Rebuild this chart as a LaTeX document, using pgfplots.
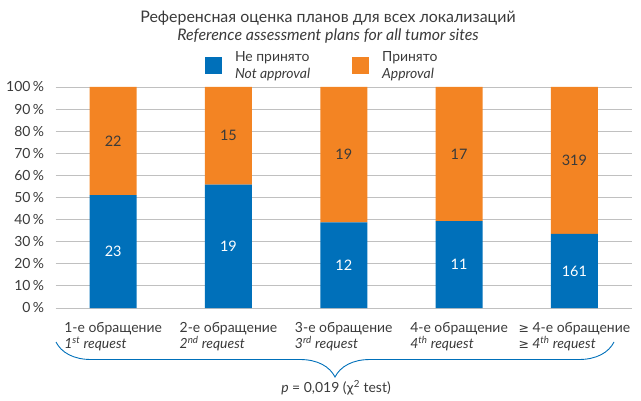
\documentclass[border=0pt]{standalone}
\usepackage{pgfplots}
\pgfplotsset{compat=1.18}
\usepackage{fontspec}
\setmainfont{Lato}
\newfontfamily\sym{DejaVu Sans}
\usetikzlibrary{decorations.pathreplacing}
\definecolor{cblue}{HTML}{0070BA}
\definecolor{corange}{HTML}{F38423}
\definecolor{ctext}{HTML}{3A3A3A}
\definecolor{cgrid}{HTML}{C0C0C0}

\pgfplotstableread{
x notacc acc
0 51.11 48.89
1 55.88 44.12
2 38.71 61.29
3 39.29 60.71
4 33.54 66.46
}\shares

\pgfplotstableread{
x y label
0 25.56 23
1 27.94 19
2 19.36 12
3 19.64 11
4 16.77 161
}\bluelabels

\pgfplotstableread{
x y label
0 75.56 22
1 77.94 15
2 69.36 19
3 69.64 17
4 66.77 319
}\orangelabels

\begin{document}
\begin{tikzpicture}[x=1bp,y=1bp]
\path[use as bounding box] (0,0) rectangle (641,400);
\begin{axis}[
  at={(55.5bp,92bp)}, anchor=south west,
  scale only axis, width=576.5bp, height=221bp,
  ybar stacked, bar width=47bp,
  xmin=-0.5, xmax=4.5, ymin=0, ymax=100,
  xtick={0,1,2,3,4},
  xticklabels={
    {1-е обращение\\\textit{1\textsuperscript{st} request}},
    {2-е обращение\\\textit{2\textsuperscript{nd} request}},
    {3-е обращение\\\textit{3\textsuperscript{rd} request}},
    {4-е обращение\\\textit{4\textsuperscript{th} request}},
    {{\sym\fontsize{12.5}{14}\selectfont ≥} 4-е обращение\\\textit{{\sym\fontsize{12.5}{14}\selectfont ≥} 4\textsuperscript{th} request}}},
  ytick={0,10,...,100},
  yticklabel={\pgfmathprintnumber{\tick}\,\%},
  /pgf/number format/assume math mode=true,
  ymajorgrids, grid style={draw=cgrid, line width=0.9bp},
  axis line style={draw=none},
  major tick style={draw=none},
  every tick label/.append style={font=\fontsize{14}{16}\selectfont, text=ctext},
  xticklabel style={align=left, yshift=-11bp},
  yticklabel style={xshift=-8bp},
  legend style={at={(0.259,1.097)}, anchor=west, draw=none, fill=none, inner sep=0pt,
    legend columns=2, font=\fontsize{14}{16.5}\selectfont,
    cells={anchor=west, align=left, text=ctext},
    /tikz/every odd column/.append style={column sep=11bp},
    /tikz/every even column/.append style={column sep=40bp}},
  legend image code/.code={\fill[#1,draw=none] (0bp,-8.5bp) rectangle (17bp,8.5bp);},
]
\addplot[fill=cblue, draw=none] table[x=x, y=notacc] {\shares};
\addlegendentry{Не принято\\\textit{Not approval}}
\addplot[fill=corange, draw=none] table[x=x, y=acc] {\shares};
\addlegendentry{Принято\\\textit{Approval}}
\end{axis}
\begin{axis}[
  at={(55.5bp,92bp)}, anchor=south west,
  scale only axis, width=576.5bp, height=221bp,
  xmin=-0.5, xmax=4.5, ymin=0, ymax=100, hide axis,
]
\addplot[draw=none, mark=none, nodes near coords, point meta=explicit symbolic,
  nodes near coords style={anchor=center, text=white, font=\fontsize{14.5}{16}\selectfont}]
  table[x=x, y=y, meta=label] {\bluelabels};
\addplot[draw=none, mark=none, nodes near coords, point meta=explicit symbolic,
  nodes near coords style={anchor=center, text=ctext, font=\fontsize{14.5}{16}\selectfont}]
  table[x=x, y=y, meta=label] {\orangelabels};
\end{axis}
\node[align=center, text=ctext, font=\fontsize{16}{18}\selectfont] at (328,373)
  {Референсная оценка планов для всех локализаций\\\textit{Reference assessment plans for all tumor sites}};
\draw[decorate, decoration={brace, amplitude=35bp, mirror}, draw=cblue, line width=0.9bp] (56,58) -- (614,58);
\node[text=ctext, font=\fontsize{14}{16}\selectfont] at (336,12)
  {\textit{p} = 0,019 ({\sym\fontsize{12.5}{14}\selectfont χ}\textsuperscript{2} test)};
\end{tikzpicture}
\end{document}
